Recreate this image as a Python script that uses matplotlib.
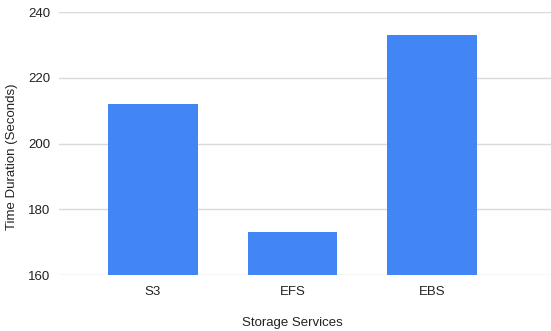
import matplotlib
matplotlib.use("Agg")
import matplotlib.pyplot as plt
import numpy as np

# chart data
services = ["S3", "EFS", "EBS"]
durations = [212, 173, 233]
y_ticks = [160, 180, 200, 220, 240]

plt.rcParams['font.family'] = ['Liberation Sans', 'DejaVu Sans']

fig = plt.figure(figsize=(5.51, 3.31), dpi=100)
ax = fig.add_axes([0.107, 0.169, 0.893, 0.794])

x = np.arange(len(services))
ax.bar(x, durations, width=0.645, color="#4285F4", zorder=3)

ax.set_ylim(160, 240)
ax.set_xlim(-0.674, 2.853)
ax.set_yticks(y_ticks)
ax.set_xticks(x)
ax.set_xticklabels(services)

ax.grid(axis="y", color="#d9d9d9", linewidth=1, zorder=0)
for s in ax.spines.values():
    s.set_visible(False)
ax.tick_params(axis="both", length=0, labelsize=9.5, colors="#222222")
ax.tick_params(axis="y", pad=6)
ax.tick_params(axis="x", pad=8)

ax.set_xlabel("Storage Services", fontsize=9.5, color="#222222")
ax.set_ylabel("Time Duration (Seconds)", fontsize=9.5, color="#222222")
ax.xaxis.set_label_coords(0.474, -0.16)
ax.yaxis.set_label_coords(-0.096, 0.45)
ax.yaxis.label.set_verticalalignment("center")

fig.savefig("out.png", dpi=100)
